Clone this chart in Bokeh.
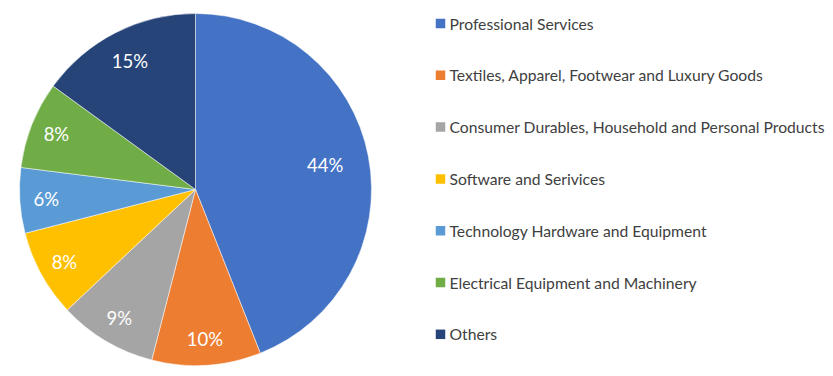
import math
from bokeh.plotting import figure
from bokeh.models import Range1d, ColumnDataSource
from bokeh.core.properties import value
from bokeh.embed import file_html
from bokeh.resources import INLINE

categories = ["Professional Services", "Textiles, Apparel, Footwear and Luxury Goods",
              "Consumer Durables, Household and Personal Products", "Software and Serivices",
              "Technology Hardware and Equipment", "Electrical Equipment and Machinery", "Others"]
shares = [44, 10, 9, 8, 6, 8, 15]
colors = ["#4472C4", "#ED7D31", "#A5A5A5", "#FFC000", "#5B9BD5", "#70AD47", "#264478"]

W, H = 833, 376
cx, cy, R = 195, H - 189, 176

total = sum(shares)
starts, ends, lx, ly, labels = [], [], [], [], []
cum = 0.0
for s in shares:
    a0 = math.pi / 2 - 2 * math.pi * cum / total
    a1 = math.pi / 2 - 2 * math.pi * (cum + s) / total
    starts.append(a0)
    ends.append(a1)
    mid = (a0 + a1) / 2
    f = 0.75 if s / total > 0.3 else (0.82 if s / total > 0.12 else 0.85)
    lx.append(cx + f * R * math.cos(mid))
    ly.append(cy + f * R * math.sin(mid))
    labels.append(f"{round(100 * s / total)}%")
    cum += s

p = figure(width=W, height=H, output_backend="svg", toolbar_location=None,
           x_range=Range1d(0, W), y_range=Range1d(0, H), min_border=0)
p.axis.visible = False
p.grid.visible = False
p.outline_line_color = None
p.background_fill_color = "white"
p.border_fill_color = "white"

src = ColumnDataSource(dict(start=starts, end=ends, color=colors, lx=lx, ly=ly, lab=labels))
p.wedge(x=cx, y=cy, radius=R, start_angle="start", end_angle="end", direction="clock",
        fill_color="color", line_color="white", line_width=0.5, source=src)
p.text(x="lx", y="ly", text="lab", source=src, text_color="white", text_font=value("Lato"),
       text_font_size="18.5px", text_align="center", text_baseline="middle")

leg_y = [H - (23 + i * 51.8) for i in range(len(categories))]
lsrc = ColumnDataSource(dict(y=leg_y, color=colors, name=categories))
p.rect(x=440, y="y", width=9.5, height=9.5, fill_color="color", line_color=None, source=lsrc)
p.text(x=449, y="y", text="name", source=lsrc, text_color="#404040", text_font=value("Lato"),
       text_font_size="15.7px", text_align="left", text_baseline="middle")

open("out.html", "w").write(file_html(p, INLINE))
